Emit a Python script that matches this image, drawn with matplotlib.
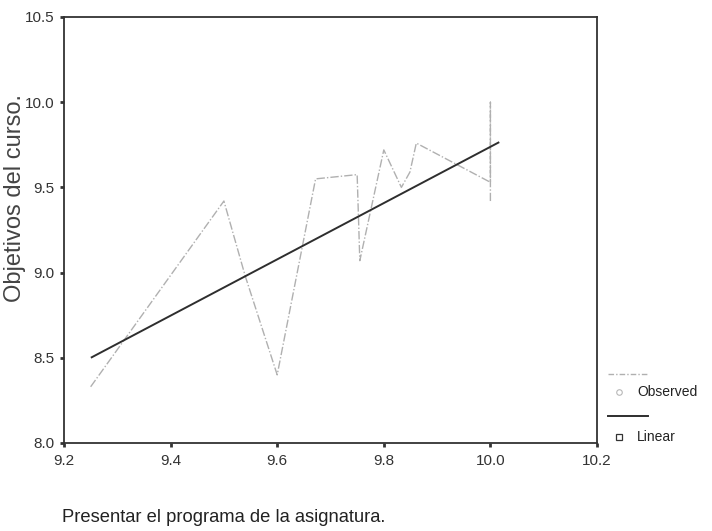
import numpy as np
import matplotlib.pyplot as plt
from matplotlib.lines import Line2D

plt.rcParams['font.family'] = ['Liberation Sans', 'DejaVu Sans']

# Observed means of "Objetivos del curso." for each value of the predictor
obs_x = [9.25, 9.50, 9.54, 9.60, 9.672, 9.75, 9.755, 9.80, 9.833, 9.849, 9.861, 10.0, 10.0, 10.0]
obs_y = [8.33, 9.42, 8.98, 8.40, 9.55, 9.575, 9.07, 9.72, 9.50, 9.59, 9.76, 9.53, 10.0, 9.42]

# Linear fit drawn over the observed range
fit_x = [9.252, 10.015]
fit_y = [8.503, 9.763]

x_ticks = [9.2, 9.4, 9.6, 9.8, 10.0, 10.2]
y_ticks = [8.0, 8.5, 9.0, 9.5, 10.0, 10.5]

fig = plt.figure(figsize=(7.12, 5.31), dpi=100)
ax = fig.add_axes([64 / 712, 1 - 443 / 531, 533 / 712, 426 / 531])

ax.plot(obs_x, obs_y, color='#b0b0b0', lw=1.0, ls=(0, (6, 1.5, 1, 1.5)))
ax.plot(fit_x, fit_y, color='#2e2e2e', lw=1.4)

ax.set_xlim(9.2, 10.2)
ax.set_ylim(8.0, 10.5)
ax.set_xticks(x_ticks)
ax.set_yticks(y_ticks)
ax.set_xticklabels(['%.1f' % v for v in x_ticks])
ax.set_yticklabels(['%.1f' % v for v in y_ticks])
ax.tick_params(direction='out', length=3, width=2, labelsize=11, colors='#333333')
ax.tick_params(axis='x', pad=5)
ax.tick_params(axis='y', pad=4)
for s in ax.spines.values():
    s.set_linewidth(1.3)
    s.set_color('#333333')

# axis titles in the SPSS layout
fig.text(15 / 712, 1 - 198 / 531, 'Objetivos del curso.', rotation=90,
         ha='center', va='center', fontsize=17, color='#444444')
fig.text(62 / 712, 1 - 517 / 531, 'Presentar el programa de la asignatura.',
         ha='left', va='center', fontsize=13.2, color='#222222')

# legend: line sample above marker + label
def fx(px):
    return px / 712

def fy(py):
    return 1 - py / 531

fig.add_artist(Line2D([fx(608), fx(648)], [fy(374), fy(374)], color='#b0b0b0', lw=1.0,
                      ls=(0, (4, 1.5, 1, 1.5)), transform=fig.transFigure))
fig.add_artist(Line2D([fx(619)], [fy(392)], marker='o', ms=4, mfc='none', mec='#b8b8b8',
                      mew=0.8, transform=fig.transFigure))
fig.text(fx(637), fy(392), 'Observed', ha='left', va='center', fontsize=10, color='#222222')
fig.add_artist(Line2D([fx(608), fx(648)], [fy(416), fy(416)], color='#2e2e2e', lw=1.4,
                      transform=fig.transFigure))
fig.add_artist(Line2D([fx(619)], [fy(437)], marker='s', ms=4, mfc='none', mec='#333333',
                      mew=0.9, transform=fig.transFigure))
fig.text(fx(637), fy(437), 'Linear', ha='left', va='center', fontsize=10, color='#222222')

fig.savefig('out.png', dpi=100)
